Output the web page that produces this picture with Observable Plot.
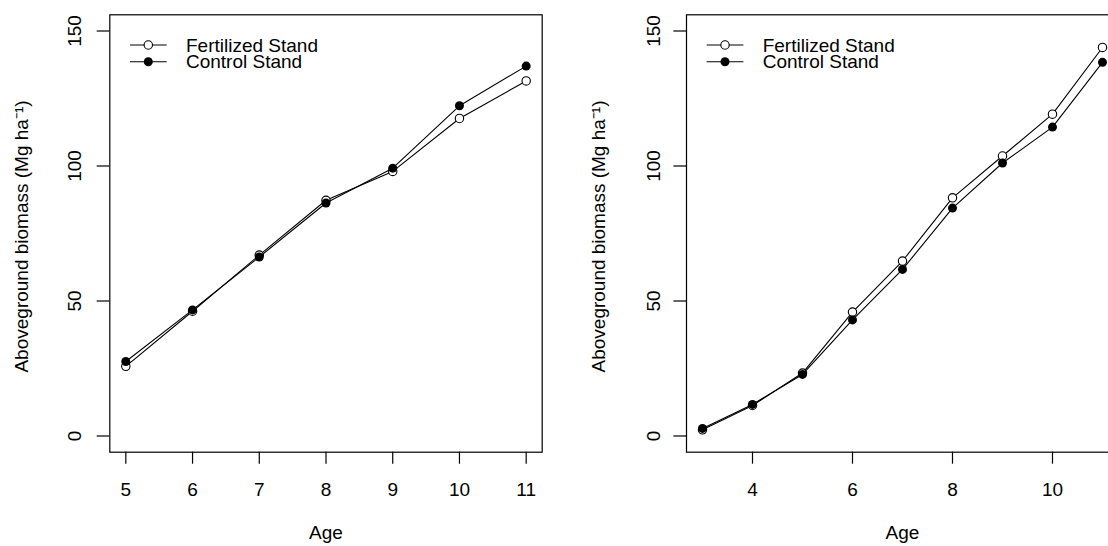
<!DOCTYPE html>
<html>
<head>
<meta charset="utf-8">
<script src="https://cdn.jsdelivr.net/npm/d3@7"></script>
<script src="https://cdn.jsdelivr.net/npm/@observablehq/plot@0.6"></script>
<style>
  html, body { margin: 0; padding: 0; background: #fff; overflow: hidden; }
  #wrap { position: relative; width: 1108px; height: 546px; overflow: hidden; background: #fff; }
  .panel { position: absolute; top: 0; }
  .panel svg.legend { position: absolute; left: 0; top: 0; pointer-events: none; }
</style>
</head>
<body>
<div id="wrap"></div>
<script>
// Stand ages (years) and aboveground biomass (Mg/ha) for the two sites
const agesA = [5, 6, 7, 8, 9, 10, 11];
const fertilizedA = [25.8, 46.2, 67.0, 87.3, 98.0, 117.6, 131.5];
const controlA = [27.6, 46.7, 66.3, 86.3, 99.2, 122.3, 137.0];

const agesB = [3, 4, 5, 6, 7, 8, 9, 10, 11];
const fertilizedB = [2.3, 11.3, 23.3, 45.9, 64.8, 88.2, 103.7, 119.2, 143.9];
const controlB = [2.8, 11.7, 22.8, 43.0, 61.7, 84.4, 101.1, 114.4, 138.4];

// Axis ticks and labels
const xTicksA = [5, 6, 7, 8, 9, 10, 11];
const xTicksB = [4, 6, 8, 10];
const yTicks = [0, 50, 100, 150];
const xTitle = "Age";
const yTitle = "Aboveground biomass (Mg ha\u207B\u00B9)";
const legendLabels = ["Fertilized Stand", "Control Stand"];

const FONT = "'Liberation Sans', Arial, Helvetica, sans-serif";
const FONT_SIZE = 19;
const H = 546, MT = 14.3, MB = 94.3;

function panel({ages, fert, ctrl, xDomain, xTicks, left, width, marginLeft, marginRight, yPad}) {
  const rows = ages.map((a, i) => ({age: a, fert: fert[i], ctrl: ctrl[i]}));
  const chart = Plot.plot({
    width, height: H,
    marginLeft, marginRight, marginTop: MT, marginBottom: MB,
    x: {domain: xDomain},
    y: {domain: [-6, 156]},
    style: {fontFamily: FONT, fontSize: FONT_SIZE + "px", color: "#000", background: "#fff", overflow: "visible"},
    marks: [
      Plot.axisX({ticks: xTicks, tickSize: 12, tickPadding: 18, tickFormat: d => String(d), label: null, strokeWidth: 1.2}),
      Plot.axisY({ticks: yTicks, tickSize: 12.6, tickPadding: yPad, tickRotate: -90, tickFormat: d => String(d), label: null, strokeWidth: 1.2}),
      Plot.text([xTitle], {text: d => d, frameAnchor: "bottom", lineAnchor: "bottom", dy: 87}),
      Plot.text([yTitle], {text: d => d, frameAnchor: "left", textAnchor: "middle", rotate: -90, lineAnchor: "bottom", dx: -81.5, dy: 3}),
      Plot.line(rows, {x: "age", y: "fert", stroke: "#000", strokeWidth: 1.1}),
      Plot.dot(rows, {x: "age", y: "fert", r: 4.2, fill: "#fff", stroke: "#000", strokeWidth: 1.1}),
      Plot.line(rows, {x: "age", y: "ctrl", stroke: "#000", strokeWidth: 1.1}),
      Plot.dot(rows, {x: "age", y: "ctrl", r: 4.5, fill: "#000", stroke: "none"}),
      Plot.frame({stroke: "#000", strokeWidth: 1.2})
    ]
  });

  const div = document.createElement("div");
  div.className = "panel";
  div.style.left = left + "px";
  div.style.width = width + "px";
  div.style.height = H + "px";
  div.appendChild(chart);

  // Legend in the top-left corner of the plotting box
  const lg = d3.select(div).append("svg")
    .attr("class", "legend")
    .attr("width", width).attr("height", 100)
    .style("font-family", FONT).style("font-size", FONT_SIZE + "px");
  const rowY = [MT + 30.7, MT + 47.4];
  legendLabels.forEach((label, i) => {
    const g = lg.append("g").attr("transform", `translate(${marginLeft},${rowY[i]})`);
    g.append("line").attr("x1", 20.7).attr("x2", 57.4).attr("y1", 0).attr("y2", 0)
      .attr("stroke", "#000").attr("stroke-width", 1.1);
    if (i === 0) {
      g.append("circle").attr("cx", 39).attr("cy", 0).attr("r", 4.2)
        .attr("fill", "#fff").attr("stroke", "#000").attr("stroke-width", 1.1);
    } else {
      g.append("circle").attr("cx", 39).attr("cy", 0).attr("r", 4.5).attr("fill", "#000");
    }
    g.append("text").attr("x", 76.7).attr("y", 0).attr("dy", "0.35em")
      .attr("fill", "#000").text(label);
  });
  document.getElementById("wrap").appendChild(div);
}

panel({ages: agesA, fert: fertilizedA, ctrl: controlA, xDomain: [4.76, 11.24], xTicks: xTicksA,
       left: 0, width: 554, marginLeft: 109.3, marginRight: 12.3, yPad: 16});
panel({ages: agesB, fert: fertilizedB, ctrl: controlB, xDomain: [2.68, 11.32], xTicks: xTicksB,
       left: 554, width: 576.3, marginLeft: 132, marginRight: 12.3, yPad: 14});
</script>
</body>
</html>
